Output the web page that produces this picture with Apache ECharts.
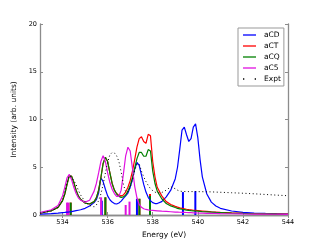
<!DOCTYPE html>
<html><head><meta charset="utf-8">
<script src="https://cdn.jsdelivr.net/npm/echarts@6/dist/echarts.min.js"></script>
<style>html,body{margin:0;padding:0;background:#fff}#c{width:320px;height:240px}</style>
</head><body><div id="c"></div>
<script>
const energy = [533.0,533.5,533.8,534.0,534.1,534.2,534.3,534.4,534.5,534.6,534.7,534.8,535.0,535.2,535.4,535.5,535.6,535.7,535.8,535.9,536.0,536.1,536.2,536.3,536.4,536.5,536.6,536.7,536.8,536.9,537.0,537.1,537.2,537.3,537.4,537.5,537.6,537.7,537.8,537.9,538.0,538.1,538.2,538.4,538.6,538.8,539.0,539.1,539.2,539.3,539.4,539.5,539.6,539.7,539.8,539.9,540.0,540.1,540.2,540.4,540.6,540.8,541.0,541.5,542.0,542.5,543.0,543.5,544.0];
const aCD = [0.1,0.15,0.2,0.25,0.27,0.3,0.32,0.35,0.4,0.45,0.5,0.55,0.7,0.95,1.3,1.6,2.3,3.9,3.5,2.7,2.0,1.6,1.35,1.2,1.15,1.25,1.45,1.75,2.0,2.3,2.9,3.7,4.8,5.5,5.2,4.2,3.2,2.4,1.85,1.5,1.3,1.2,1.2,1.4,1.9,2.6,3.8,5.0,6.9,8.9,9.2,8.4,7.7,8.0,9.2,9.55,8.1,5.8,4.0,2.2,1.35,0.95,0.7,0.42,0.28,0.21,0.16,0.13,0.1];
const aCT = [0.2,0.45,0.8,1.5,2.2,3.2,4.15,4.05,3.4,2.6,2.0,1.65,1.25,1.15,1.4,1.8,2.6,3.9,5.4,6.05,5.6,4.4,3.3,2.6,2.25,2.05,2.0,2.1,2.4,2.9,3.6,4.6,5.8,7.1,8.0,8.2,7.7,7.5,8.45,8.3,5.6,4.0,2.9,2.0,1.4,1.1,0.9,0.82,0.75,0.7,0.65,0.6,0.56,0.53,0.5,0.48,0.46,0.44,0.42,0.38,0.34,0.31,0.28,0.22,0.18,0.15,0.12,0.1,0.09];
const aCQ = [0.2,0.45,0.8,1.5,2.2,3.2,4.15,4.05,3.4,2.6,2.0,1.65,1.25,1.15,1.4,1.8,2.6,3.9,5.4,6.05,5.6,4.4,3.3,2.6,2.2,1.95,1.85,1.9,2.1,2.5,3.1,3.9,4.9,5.9,6.55,6.55,6.15,6.15,6.85,6.7,4.6,3.3,2.5,1.7,1.2,0.95,0.78,0.7,0.65,0.6,0.56,0.52,0.49,0.46,0.44,0.42,0.4,0.38,0.36,0.33,0.3,0.27,0.25,0.2,0.16,0.13,0.11,0.09,0.08];
const aC5 = [0.25,0.55,1.0,2.0,2.9,3.9,4.25,3.7,2.9,2.25,1.8,1.55,1.35,1.55,2.5,3.3,4.4,5.6,6.2,5.6,4.4,3.4,2.7,2.25,1.95,1.95,2.6,4.3,6.2,7.1,6.7,4.9,3.0,1.8,1.1,0.8,0.65,0.58,0.53,0.5,0.48,0.46,0.44,0.4,0.37,0.34,0.31,0.3,0.29,0.28,0.27,0.26,0.25,0.24,0.23,0.22,0.21,0.2,0.2,0.18,0.17,0.16,0.15,0.13,0.11,0.1,0.09,0.08,0.07];
const expt = [0.2,0.4,0.8,1.5,2.3,3.4,4.1,3.95,3.6,3.2,2.6,2.1,1.4,1.0,0.85,1.05,1.5,2.2,3.2,4.4,5.5,6.3,6.55,6.5,6.2,5.6,4.5,3.2,2.4,2.4,2.9,3.7,4.7,5.3,5.35,4.6,4.0,3.5,3.1,2.75,2.55,2.4,2.3,2.35,2.6,2.95,2.75,2.6,2.5,2.47,2.46,2.45,2.45,2.45,2.45,2.45,2.45,2.44,2.44,2.43,2.42,2.4,2.38,2.33,2.28,2.22,2.15,2.08,2.02];

const stickCD_E = [535.74, 537.30, 539.34, 539.89];
const stickCD_I = [1.5, 1.7, 2.4, 2.5];
const stickCT_E = [534.36, 535.90, 537.41, 537.88];
const stickCT_I = [1.3, 1.85, 1.7, 2.2];
const stickCQ_E = [534.36, 535.90, 537.41, 537.88];
const stickCQ_I = [1.3, 1.85, 1.7, 2.0];
const stickC5_E = [534.20, 534.26, 535.71, 536.80, 536.97];
const stickC5_I = [1.3, 1.3, 1.85, 1.05, 1.4];

const xTicks = [534, 536, 538, 540, 542, 544];
const yTicks = [0, 5, 10, 15, 20];

const FONT = 'DejaVu Sans';
const AX = '#8c8c8c';
const C = {aCD:'#0000ff', aCT:'#ff0000', aCQ:'#008000', aC5:'#e010e0', Expt:'#000000'};
const LINE_ICON = 'path://M0,0H13V1.3H0Z';
const DOT_ICON = 'path://M0,0H1.3V1.3H0Z M11.7,0H13V1.3H11.7Z';

function pairs(xs, ys){ return xs.map((x,i)=>[x, ys[i]]); }
function lineSeries(name, ys, color, extra){
  return Object.assign({
    name, type:'line', data: pairs(energy, ys), symbol:'none', showSymbol:false,
    lineStyle:{color, width:1.2}, itemStyle:{color}, clip:true, animation:false
  }, extra||{});
}
function stickSeries(name, es, is, color){
  return {name, type:'bar', data: pairs(es, is), barWidth:2, barGap:'-100%',
    itemStyle:{color}, animation:false, z:3};
}

const chart = echarts.init(document.getElementById('c'), null, {renderer:'canvas'});
chart.setOption({
  animation:false,
  backgroundColor:'#fff',
  grid:{left:40, right:32, top:24, bottom:25, containLabel:false, outerBoundsMode:'none'},
  legend:{
    orient:'vertical', left:238, top:28,
    data:[
      {name:'aCD', icon:LINE_ICON},
      {name:'aCT', icon:LINE_ICON},
      {name:'aCQ', icon:LINE_ICON},
      {name:'aC5', icon:LINE_ICON},
      {name:'Expt', icon:DOT_ICON}
    ],
    itemWidth:13, itemHeight:7, itemGap:3,
    padding:[3,3,3,5],
    borderColor:'#999', borderWidth:1, backgroundColor:'#fff',
    textStyle:{fontFamily:FONT, fontSize:7.5, color:'#000', padding:[0,0,0,3]}
  },
  xAxis:[{
    type:'value', min:533, max:544, position:'bottom',
    name:'Energy (eV)', nameLocation:'middle', nameGap:16,
    nameTextStyle:{fontFamily:FONT, fontSize:7.5, color:'#000'},
    axisLine:{lineStyle:{color:AX, width:1.3}},
    axisTick:{inside:true, length:3, lineStyle:{color:AX}, customValues:xTicks},
    axisLabel:{fontFamily:FONT, fontSize:6.5, color:'#000', margin:4, customValues:xTicks},
    splitLine:{show:false}
  },{
    type:'value', min:533, max:544, position:'top',
    axisLine:{lineStyle:{color:AX, width:1.3}},
    axisTick:{inside:true, length:3, lineStyle:{color:AX}, customValues:xTicks},
    axisLabel:{show:false}, splitLine:{show:false}
  }],
  yAxis:[{
    type:'value', min:0, max:20, interval:5, position:'left',
    name:'Intensity (arb. units)', nameLocation:'middle', nameGap:18, nameRotate:90,
    nameTextStyle:{fontFamily:FONT, fontSize:7.5, color:'#000'},
    axisLine:{show:true, lineStyle:{color:AX, width:1.3}},
    axisTick:{show:true, inside:true, length:3, lineStyle:{color:AX}, customValues:yTicks},
    axisLabel:{fontFamily:FONT, fontSize:6.5, color:'#000', margin:3, customValues:yTicks},
    splitLine:{show:false}
  },{
    type:'value', min:0, max:20, interval:5, position:'right',
    axisLine:{show:true, lineStyle:{color:AX, width:1.3}},
    axisTick:{show:true, inside:true, length:3, lineStyle:{color:AX}},
    axisLabel:{show:false}, splitLine:{show:false}
  }],
  series:[
    lineSeries('aCD', aCD, C.aCD),
    lineSeries('aCT', aCT, C.aCT),
    lineSeries('aCQ', aCQ, C.aCQ),
    lineSeries('aC5', aC5, C.aC5),
    lineSeries('Expt', expt, C.Expt, {lineStyle:{color:'#000', width:1, type:[1,2.6]}}),
    stickSeries('sCD', stickCD_E, stickCD_I, C.aCD),
    stickSeries('sCT', stickCT_E, stickCT_I, C.aCT),
    stickSeries('sCQ', stickCQ_E, stickCQ_I, C.aCQ),
    stickSeries('sC5', stickC5_E, stickC5_I, C.aC5)
  ]
});
</script></body></html>
